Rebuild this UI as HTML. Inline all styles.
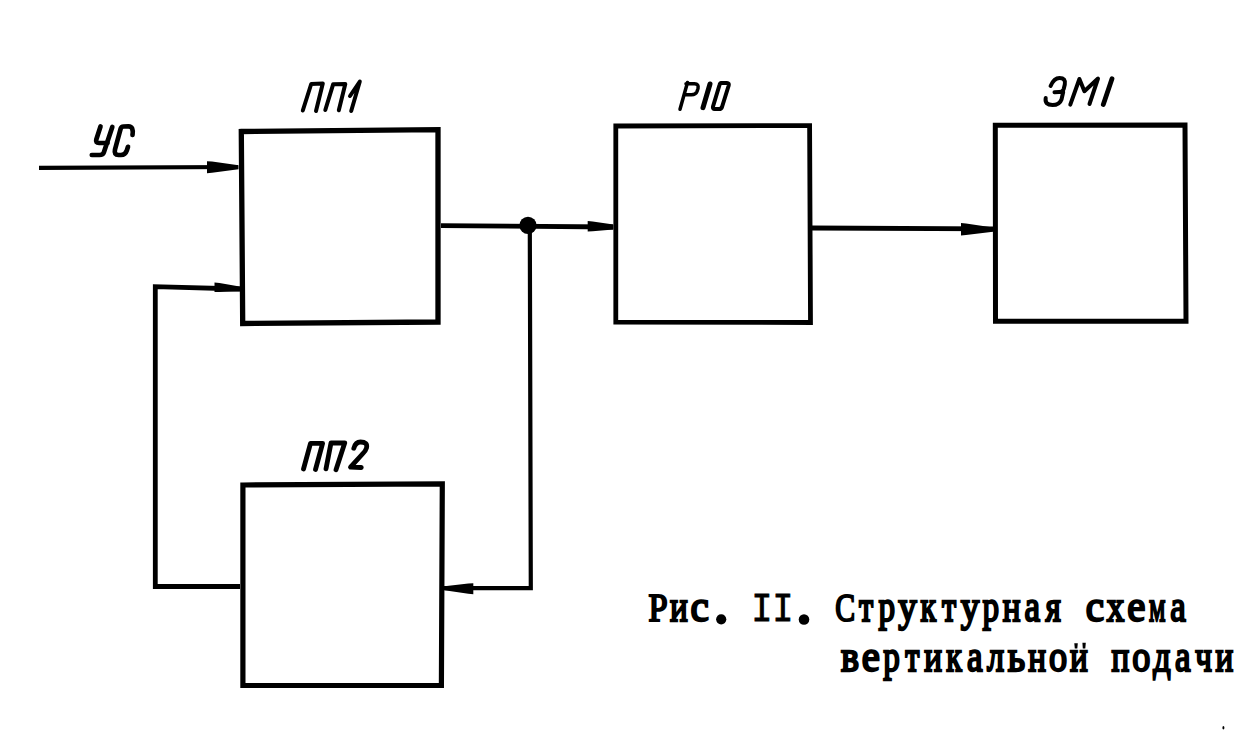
<!DOCTYPE html>
<html>
<head>
<meta charset="utf-8">
<style>
html,body{margin:0;padding:0;background:#fff;width:1256px;height:747px;overflow:hidden;}
svg{display:block;}
.s{font-family:"Liberation Serif", serif;font-weight:normal;font-size:36.0px;text-anchor:middle;fill:#000;stroke:#000;stroke-width:1.9px;}
.t{font-family:"Liberation Mono", monospace;font-weight:normal;font-size:34.67px;fill:#000;stroke:#000;stroke-width:1.4px;white-space:pre;}
</style>
</head>
<body>
<svg width="1256" height="747" viewBox="0 0 1256 747">
<rect width="1256" height="747" fill="#fff"/>
<g fill="none" stroke="#000" stroke-linejoin="miter" stroke-linecap="square">
  <!-- box PP1 -->
  <path d="M241.3 131.5 L438 129.6 L438 322 L242.7 323.5 Z" stroke-width="5.3"/>
  <!-- box P10 -->
  <path d="M615.8 126 L809.6 125.6 L810.5 322.5 L615.8 322.2 Z" stroke-width="4.8"/>
  <!-- box EM1 -->
  <path d="M995.3 125.2 L1185 124.9 L1186 321.2 L995.5 321.3 Z" stroke-width="5"/>
  <!-- box PP2 -->
  <path d="M242.9 485 L442.3 483.9 L441.4 685.5 L242.9 685.5 Z" stroke-width="5.2"/>
</g>
<g fill="none" stroke="#000" stroke-linecap="butt" stroke-linejoin="miter">
  <!-- input line -->
  <path d="M39 167.8 L238 167" stroke-width="4.2"/>
  <!-- output from PP1 to P10 -->
  <path d="M441 225.6 L613 227" stroke-width="4.8"/>
  <!-- P10 to EM1 -->
  <path d="M812 228 L993 228.8" stroke-width="4.8"/>
  <!-- junction down and back to PP2 -->
  <path d="M529.8 226 L530.8 588.2 L444 588.2" stroke-width="4.2"/>
  <!-- feedback PP2 -> PP1 -->
  <path d="M240 586.5 L155.3 586.5 L155.3 286.7 L240 289" stroke-width="4.8"/>
</g>
<g fill="#000">
  <!-- junction dot -->
  <circle cx="528" cy="225.3" r="8.6"/>
  <!-- arrowheads -->
  <path d="M207 161.2 L212.0 161.6 L238.5 165.2 L238.5 169.2 L212.0 172.8 L207 173.2 Z"/>
  <path d="M214.5 282.4 L219.5 282.9 L241 286.8 L241 291.2 L219.5 291.9 L214.5 292 Z"/>
  <path d="M587.7 221 L592.7 221.4 L613.4 224.6 L613.4 229.4 L592.7 231.3 L587.7 231.5 Z"/>
  <path d="M961 223 L966.0 223.4 L993 227.4 L993 231.8 L966.0 235.1 L961 235.4 Z"/>
  <path d="M473.3 583.2 L468.3 583.5 L444.5 586.2 L444.5 590.2 L468.3 593.8 L473.3 594.2 Z"/>
</g>
<!-- labels -->
<g fill="none" stroke="#000" stroke-width="4" stroke-linecap="round" stroke-linejoin="round">
  <!-- УС -->
  <path d="M100.5 126.5 L96.3 139.5 Q95.3 143 99 143 L107.5 143" stroke-width="4.7"/>
  <path d="M112.3 127 L103.8 152.5 Q103 155 99.5 155 L91.8 155" stroke-width="4.7"/>
  <path d="M132.5 135 Q133.8 126.3 128.5 126.3 L123.5 126.5 Q121.3 126.6 120.6 128.8 L115 149.5 Q113.8 155 118.5 155 L121 155 Q125.3 155 126.8 150.5 L128 146.8" stroke-width="4.7"/>
  <!-- ПП1 -->
  <path d="M302.8 110.5 L311.2 84 L322.8 83.5 L316 111"/>
  <path d="M325.3 110 L333.2 84.2 L345.3 84 L338.8 110.3"/>
  <path d="M350 96 L359.8 81.5 L351.2 111"/>
  <!-- P10 -->
  <path d="M680 109.3 L687.5 82.5 M686 83.8 L694.5 83.8 Q699 84 698 88.5 L697 91.5 Q695.8 94.8 691.5 94.8 L684.2 94.8" stroke-width="3.5"/>
  <path d="M703 107.6 L710 84" stroke-width="5"/>
  <path d="M721 83 L727 83 Q729.3 83 728.7 85.5 L722 107 Q721.3 109 719 109 L714.7 109 Q712.5 109 713 106.5 L719.5 85 Q720 83 721 83 Z"/>
  <!-- ЭМ1 -->
  <path d="M1050.6 86 Q1054 78 1059.5 78 Q1066 78 1064.8 84.5 L1063.7 89 Q1062.8 92 1059 92 L1054.5 92.2 M1063.2 92 L1061.5 99.5 Q1059.5 105 1052.5 105 Q1044.5 105 1045.7 98"/>
  <path d="M1070.3 104.6 L1079.4 79 L1084.4 91.2 L1098 78.5 L1089.5 104"/>
  <path d="M1112 78.8 L1103.3 104.5" stroke-width="4.8"/>
  <!-- ПП2 -->
  <path d="M303.5 469 L310.5 443.3 L322.6 443.3 L315.5 469.5" stroke-width="4.8"/>
  <path d="M326 468.8 L331 443 L344.8 442.8 L336 469.8" stroke-width="4.8"/>
  <path d="M353.8 448.3 Q355.5 442 360.5 442 Q368 442 366.5 448 Q365.8 451 362 454.5 L350.5 467.2 L361.3 467.5" stroke-width="4.8"/>
</g>
<ellipse cx="1223.4" cy="727.8" rx="1" ry="1.7" fill="#000"/>
<!-- caption -->
<circle cx="721.2" cy="619.3" r="5.1" fill="#000"/>
<circle cx="804" cy="619.5" r="5.3" fill="#000"/>
<path d="M1074.3 643.2 L1077.8 643.2 L1077.3 648.5 L1074.8 648.5 Z M1082.4 642.8 L1085.8 642.8 L1085.3 648.5 L1082.8 648.5 Z" fill="#000"/>
<!-- caption text -->
<text x="0" y="0" transform="translate(658.0 621.2) scale(0.954 1.11)" class="s">Р</text>
<text x="0" y="0" transform="translate(678.8 621.2) scale(0.922 1.22)" class="s">и</text>
<text x="0" y="0" transform="translate(699.6 621.2) scale(1.145 1.22)" class="s">с</text>
<text x="0" y="0" transform="translate(762.0 621.2) scale(1 1.18)" class="t" text-anchor="middle" style="stroke-width:0.8px">I</text>
<text x="0" y="0" transform="translate(782.8 621.2) scale(1 1.18)" class="t" text-anchor="middle" style="stroke-width:0.8px">I</text>
<text x="0" y="0" transform="translate(845.2 621.2) scale(0.827 1.11)" class="s">С</text>
<text x="0" y="0" transform="translate(866.0 621.2) scale(0.901 1.22)" class="s">т</text>
<text x="0" y="0" transform="translate(886.8 621.2) scale(0.922 1.22)" class="s">р</text>
<text x="0" y="0" transform="translate(907.6 621.2) scale(1.028 1.22)" class="s">у</text>
<text x="0" y="0" transform="translate(928.4 621.2) scale(0.890 1.22)" class="s">к</text>
<text x="0" y="0" transform="translate(949.2 621.2) scale(0.901 1.22)" class="s">т</text>
<text x="0" y="0" transform="translate(970.0 621.2) scale(1.028 1.22)" class="s">у</text>
<text x="0" y="0" transform="translate(990.8 621.2) scale(0.922 1.22)" class="s">р</text>
<text x="0" y="0" transform="translate(1011.6 621.2) scale(0.922 1.22)" class="s">н</text>
<text x="0" y="0" transform="translate(1032.4 621.2) scale(0.975 1.22)" class="s">а</text>
<text x="0" y="0" transform="translate(1053.2 621.2) scale(0.922 1.22)" class="s">я</text>
<text x="0" y="0" transform="translate(1094.8 621.2) scale(1.145 1.22)" class="s">с</text>
<text x="0" y="0" transform="translate(1115.6 621.2) scale(0.975 1.22)" class="s">х</text>
<text x="0" y="0" transform="translate(1136.4 621.2) scale(1.134 1.22)" class="s">е</text>
<text x="0" y="0" transform="translate(1157.2 621.2) scale(0.721 1.22)" class="s">м</text>
<text x="0" y="0" transform="translate(1178.0 621.2) scale(0.975 1.22)" class="s">а</text>
<text x="0" y="0" transform="translate(850.0 671.2) scale(1.060 1.22)" class="s">в</text>
<text x="0" y="0" transform="translate(870.8 671.2) scale(1.134 1.22)" class="s">е</text>
<text x="0" y="0" transform="translate(891.6 671.2) scale(0.922 1.22)" class="s">р</text>
<text x="0" y="0" transform="translate(912.4 671.2) scale(0.901 1.22)" class="s">т</text>
<text x="0" y="0" transform="translate(933.2 671.2) scale(0.922 1.22)" class="s">и</text>
<text x="0" y="0" transform="translate(954.0 671.2) scale(0.890 1.22)" class="s">к</text>
<text x="0" y="0" transform="translate(974.8 671.2) scale(0.975 1.22)" class="s">а</text>
<text x="0" y="0" transform="translate(995.6 671.2) scale(0.954 1.22)" class="s">л</text>
<text x="0" y="0" transform="translate(1016.4 671.2) scale(1.060 1.22)" class="s">ь</text>
<text x="0" y="0" transform="translate(1037.2 671.2) scale(0.922 1.22)" class="s">н</text>
<text x="0" y="0" transform="translate(1058.0 671.2) scale(1.007 1.22)" class="s">о</text>
<text x="0" y="0" transform="translate(1078.8 671.2) scale(0.922 1.22)" class="s">и</text>
<text x="0" y="0" transform="translate(1120.4 671.2) scale(0.922 1.22)" class="s">п</text>
<text x="0" y="0" transform="translate(1141.2 671.2) scale(1.007 1.22)" class="s">о</text>
<text x="0" y="0" transform="translate(1162.0 671.2) scale(0.954 1.22)" class="s">д</text>
<text x="0" y="0" transform="translate(1182.8 671.2) scale(0.975 1.22)" class="s">а</text>
<text x="0" y="0" transform="translate(1203.6 671.2) scale(0.922 1.22)" class="s">ч</text>
<text x="0" y="0" transform="translate(1224.4 671.2) scale(0.922 1.22)" class="s">и</text>
</svg>
</body>
</html>
